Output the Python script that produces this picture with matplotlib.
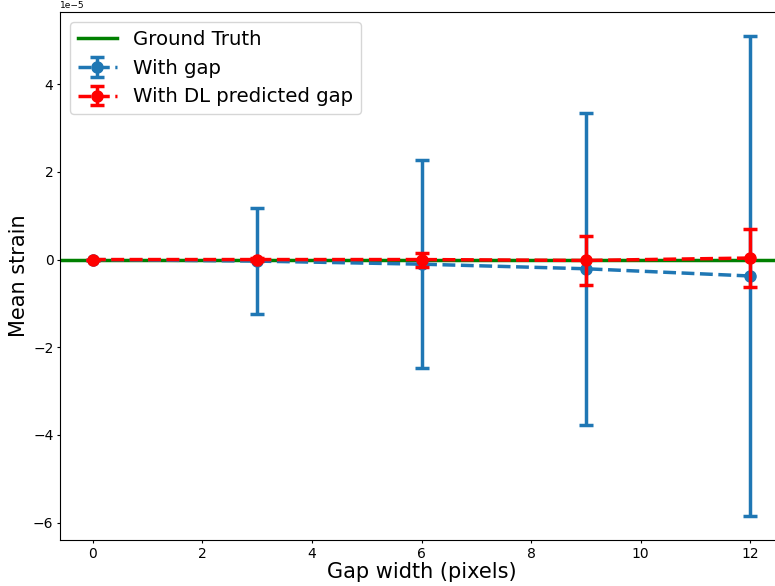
import matplotlib
matplotlib.use("Agg")
import matplotlib.pyplot as plt

# Gap widths (pixels)
gap_width = [0, 3, 6, 9, 12]

# Mean strain with gap and its std (units of 1e-5, scaled below)
gap_mean = [0.0, -0.035, -0.105, -0.21, -0.375]
gap_err = [0.0, 1.215, 2.375, 3.56, 5.475]

# Mean strain with DL predicted gap
dl_mean = [0.0, 0.0, 0.0, -0.02, 0.035]
dl_err = [0.0, 0.04, 0.16, 0.55, 0.665]

ground_truth = 0.0
scale = 1e-5

fig = plt.figure(figsize=(7.75, 5.86), dpi=100)
# axes run past the right edge, as in the (cropped) original
ax = fig.add_axes([60 / 775, 46 / 586, 723 / 775, 528 / 586])

ax.axhline(ground_truth, color="green", lw=2.5, label="Ground Truth", zorder=1)
ax.errorbar(gap_width, [m * scale for m in gap_mean], yerr=[e * scale for e in gap_err],
            fmt="o--", color="#1f77b4", lw=2.5, ms=8, capsize=5, capthick=2.5,
            elinewidth=2.5, label="With gap", zorder=2)
ax.errorbar(gap_width, [m * scale for m in dl_mean], yerr=[e * scale for e in dl_err],
            fmt="o--", color="red", lw=2.5, ms=8, capsize=5, capthick=2.5,
            elinewidth=2.5, label="With DL predicted gap", zorder=3)

ax.set_xlabel("Gap width (pixels)", fontsize=15, labelpad=1)
ax.set_ylabel("Mean strain", fontsize=15, labelpad=3)
ax.tick_params(labelsize=10, length=2.2, pad=2.5)
ax.yaxis.get_offset_text().set_fontsize(6.5)
ax.legend(loc="upper left", fontsize=14.2)

plt.savefig("out.png", dpi=100)
